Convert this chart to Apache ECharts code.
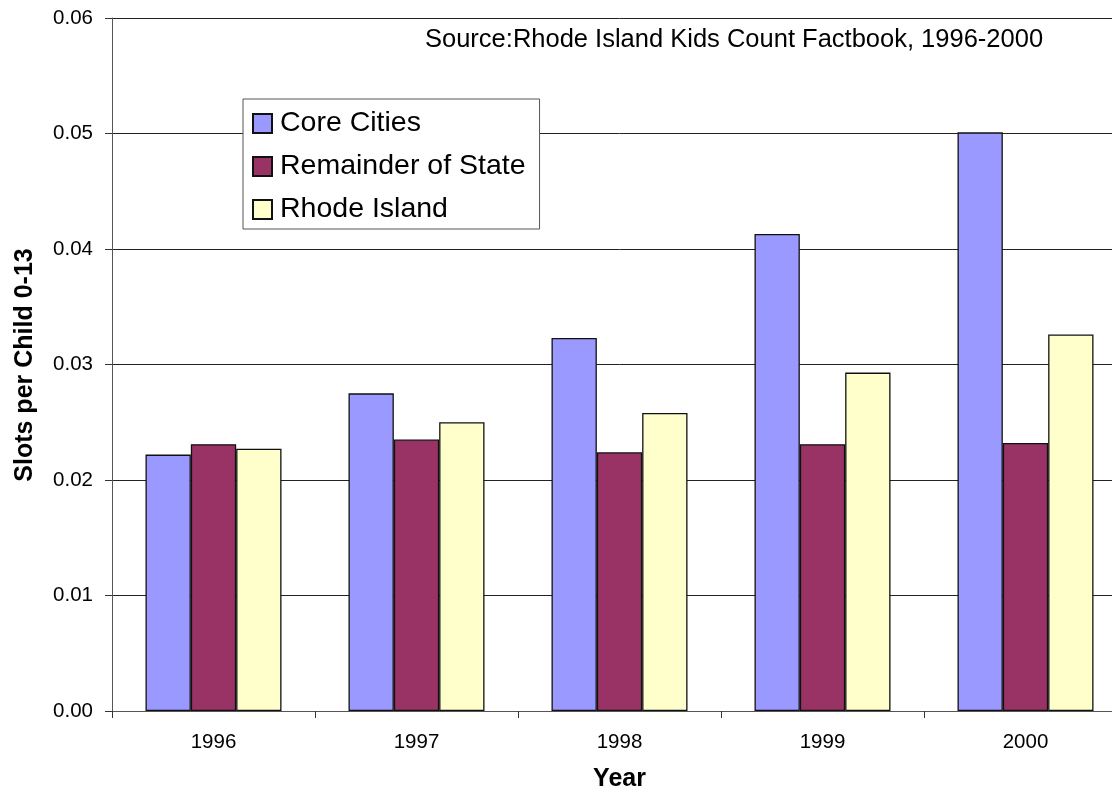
<!DOCTYPE html>
<html>
<head>
<meta charset="utf-8">
<script src="https://cdn.jsdelivr.net/npm/echarts@6/dist/echarts.min.js"></script>
<style>
html,body{margin:0;padding:0;background:#fff;overflow:hidden;width:1112px;height:796px;}
#chart{width:1130px;height:796px;}
</style>
</head>
<body>
<div id="chart"></div>
<script>
const years = ['1996', '1997', '1998', '1999', '2000'];
const coreCities = [0.0222, 0.0275, 0.0323, 0.0413, 0.0501];
const remainderOfState = [0.0231, 0.0235, 0.0224, 0.0231, 0.0232];
const rhodeIsland = [0.0227, 0.0250, 0.0258, 0.0293, 0.0326];
const seriesNames = ['Core Cities', 'Remainder of State', 'Rhode Island'];
const yTicks = [0, 0.01, 0.02, 0.03, 0.04, 0.05, 0.06];

const FONT = '"Liberation Sans", Arial, sans-serif';
const chart = echarts.init(document.getElementById('chart'));
const barBorder = { borderColor: '#111', borderWidth: 1.3 };

chart.setOption({
  animation: false,
  backgroundColor: '#ffffff',
  textStyle: { fontFamily: FONT },
  grid: { left: 112, top: 18, right: 3, bottom: 85, containLabel: false },
  legend: {
    orient: 'vertical',
    left: 243, top: 99,
    data: seriesNames,
    backgroundColor: '#ffffff',
    borderColor: '#555',
    borderWidth: 1,
    padding: [10, 14, 5, 9],
    itemGap: 14,
    itemWidth: 19,
    itemHeight: 19,
    icon: 'rect',
    textStyle: { fontFamily: FONT, fontSize: 28.5, lineHeight: 28, color: '#000', padding: [0, 0, 0, 3] }
  },
  xAxis: {
    type: 'category',
    data: years,
    axisLine: { lineStyle: { color: '#555', width: 1 } },
    axisTick: { show: true, length: 7, lineStyle: { color: '#333' } },
    axisLabel: { fontFamily: FONT, fontSize: 20.5, color: '#000', margin: 21 },
    splitLine: { show: false }
  },
  yAxis: {
    type: 'value',
    min: 0, max: 0.06, interval: 0.01,
    axisLine: { show: true, lineStyle: { color: '#555', width: 1 } },
    axisTick: { show: true, length: 7, lineStyle: { color: '#333' } },
    axisLabel: {
      fontFamily: FONT, fontSize: 20.5, color: '#000', margin: 19,
      formatter: v => {
        const t = yTicks.find(x => Math.abs(x - v) < 1e-9);
        return (t !== undefined ? t : v).toFixed(2);
      }
    },
    splitLine: { show: true, lineStyle: { color: '#222', width: 1 } }
  },
  series: [
    { name: seriesNames[0], type: 'bar', data: coreCities, barGap: '0%', barCategoryGap: '33%',
      itemStyle: Object.assign({ color: '#9999FF' }, barBorder) },
    { name: seriesNames[1], type: 'bar', data: remainderOfState,
      itemStyle: Object.assign({ color: '#993366' }, barBorder) },
    { name: seriesNames[2], type: 'bar', data: rhodeIsland,
      itemStyle: Object.assign({ color: '#FFFFCC' }, barBorder) }
  ],
  graphic: [
    { type: 'text', left: 425, top: 27, z: 10,
      style: { text: 'Source:Rhode Island Kids Count Factbook, 1996-2000', font: '25.5px ' + FONT, fill: '#000' } },
    { type: 'text', x: 25, y: 365, rotation: Math.PI / 2, z: 10,
      style: { text: 'Slots per Child 0-13', font: 'bold 25px ' + FONT, fill: '#000', align: 'center', verticalAlign: 'middle' } },
    { type: 'text', x: 619.5, y: 779, z: 10,
      style: { text: 'Year', font: 'bold 25px ' + FONT, fill: '#000', align: 'center', verticalAlign: 'middle' } }
  ]
});
</script>
</body>
</html>
